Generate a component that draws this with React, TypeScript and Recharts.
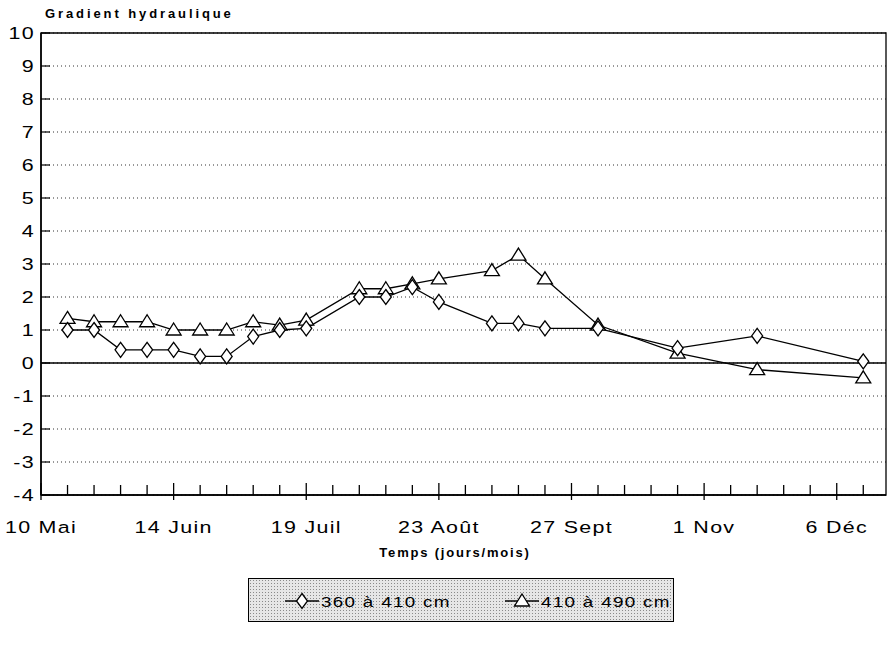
import React from 'react';
import { LineChart, Line, XAxis, YAxis, CartesianGrid, ReferenceLine, ReferenceArea } from 'recharts';

// sampling dates, as day of the year
const days = [137, 144, 151, 158, 165, 172, 179, 186, 193, 200, 214, 221, 228, 235, 249, 256, 263, 277, 298, 319, 347];
const gradient360to410 = [1.0, 1.0, 0.4, 0.4, 0.4, 0.2, 0.2, 0.8, 1.0, 1.05, 2.0, 2.0, 2.3, 1.85, 1.2, 1.2, 1.05, 1.05, 0.45, 0.82, 0.05];
const gradient410to490 = [1.35, 1.25, 1.25, 1.25, 1.0, 1.0, 1.0, 1.25, 1.15, 1.3, 2.25, 2.25, 2.4, 2.55, 2.8, 3.27, 2.55, 1.15, 0.3, -0.2, -0.45];

const labelDays = [130, 165, 200, 235, 270, 305, 340];
const labelNames = ['10 Mai', '14 Juin', '19 Juil', '23 Août', '27 Sept', '1 Nov', '6 Déc'];
const weekTicks = [130, 137, 144, 151, 158, 165, 172, 179, 186, 193, 200, 207, 214, 221, 228, 235, 242, 249, 256, 263, 270, 277, 284, 291, 298, 305, 312, 319, 326, 333, 340, 347];
const yTicks = [-4, -3, -2, -1, 0, 1, 2, 3, 4, 5, 6, 7, 8, 9, 10];

const data = days.map((day, i) => ({ day, a: gradient360to410[i], b: gradient410to490[i] }));

const FONT = '"Liberation Sans", Arial, Helvetica, sans-serif';

const diamondPoints = (cx: number, cy: number) =>
  `${cx},${cy - 7.5} ${cx + 5.5},${cy} ${cx},${cy + 7.5} ${cx - 5.5},${cy}`;
const trianglePoints = (cx: number, cy: number) =>
  `${cx},${cy - 7} ${cx + 7.5},${cy + 5} ${cx - 7.5},${cy + 5}`;

const DiamondDot = (props: any) => {
  const { cx, cy, index } = props;
  if (cx == null || cy == null) return null;
  return <polygon key={`d${index}`} points={diamondPoints(cx, cy)} fill="#fff" stroke="#000" strokeWidth={1.3} />;
};

const TriangleDot = (props: any) => {
  const { cx, cy, index } = props;
  if (cx == null || cy == null) return null;
  return <polygon key={`t${index}`} points={trianglePoints(cx, cy)} fill="#fff" stroke="#000" strokeWidth={1.3} />;
};

const XTick = (props: any) => {
  const { x, y, payload } = props;
  const axisY = y - 8; // tickSize 6 + tickMargin 2
  const idx = labelDays.indexOf(payload.value);
  const major = idx >= 0;
  return (
    <g>
      <line x1={x} x2={x} y1={axisY - (major ? 12 : 10)} y2={axisY + (major ? 5 : 0)} stroke="#000" strokeWidth={1.3} />
      {major && (
        <text
          transform={`translate(${x},${axisY + 38}) scale(1.3,1)`}
          textAnchor="middle"
          fontFamily={FONT}
          fontSize={16.5}
          letterSpacing={1}
          fill="#000"
        >
          {labelNames[idx]}
        </text>
      )}
    </g>
  );
};

const YTick = (props: any) => {
  const { x, y, payload } = props;
  const axisX = x + 8;
  return (
    <g>
      <line x1={axisX} x2={axisX + 9} y1={y} y2={y} stroke="#000" strokeWidth={1.2} />
      <text
        transform={`translate(${axisX - 6},${y + 6}) scale(1.3,1)`}
        textAnchor="end"
        fontFamily={FONT}
        fontSize={16.5}
        letterSpacing={1}
        fill="#000"
      >
        {payload.value}
      </text>
    </g>
  );
};

function LegendBox() {
  return (
    <div
      style={{
        position: 'absolute',
        left: 248,
        top: 578,
        width: 426,
        height: 44,
        boxSizing: 'border-box',
        border: '1.5px solid #000',
        backgroundColor: '#e6e6e6',
        backgroundImage: 'radial-gradient(#8a8a8a 0.7px, transparent 0.9px)',
        backgroundSize: '3px 3px',
      }}
    >
      <svg width={426} height={44} style={{ position: 'absolute', left: 0, top: 0 }}>
        <line x1={36} x2={70} y1={22} y2={22} stroke="#000" strokeWidth={1.3} />
        <polygon points={diamondPoints(53, 22)} fill="#fff" stroke="#000" strokeWidth={1.3} />
        <text transform="translate(72,27.5) scale(1.3,1)" fontFamily={FONT} fontSize={14.5} letterSpacing={1} fill="#000">
          360 à 410 cm
        </text>
        <line x1={256} x2={290} y1={22} y2={22} stroke="#000" strokeWidth={1.3} />
        <polygon points={trianglePoints(273, 22)} fill="#fff" stroke="#000" strokeWidth={1.3} />
        <text transform="translate(292,27.5) scale(1.3,1)" fontFamily={FONT} fontSize={14.5} letterSpacing={1} fill="#000">
          410 à 490 cm
        </text>
      </svg>
    </div>
  );
}

export default function App() {
  return (
    <div style={{ position: 'absolute', left: 0, top: 0, width: 895, height: 653, background: '#fff' }}>
      <div
        style={{
          position: 'absolute',
          left: 45,
          top: 6,
          fontFamily: FONT,
          fontWeight: 'bold',
          fontSize: 13,
          letterSpacing: 2.9,
          lineHeight: '16px',
          color: '#000',
        }}
      >
        Gradient hydraulique
      </div>
      <LineChart width={895} height={653} data={data} margin={{ top: 33, right: 9, left: 0, bottom: 128 }}>
        <CartesianGrid vertical={false} stroke="#333" strokeDasharray="1 3" />
        <XAxis
          dataKey="day"
          type="number"
          domain={[130, 353]}
          ticks={weekTicks}
          interval={0}
          allowDataOverflow
          height={30}
          tickSize={6}
          tickMargin={2}
          tickLine={false}
          tick={<XTick />}
          axisLine={{ stroke: '#000', strokeWidth: 1.5 }}
        />
        <YAxis
          type="number"
          domain={[-4, 10]}
          ticks={yTicks}
          interval={0}
          width={41}
          tickSize={6}
          tickMargin={2}
          tickLine={false}
          tick={<YTick />}
          axisLine={{ stroke: '#000', strokeWidth: 1.5 }}
        />
        <ReferenceArea x1={130} x2={353} y1={-4} y2={10} fill="none" fillOpacity={0} stroke="#000" strokeWidth={1.3} />
        <ReferenceLine y={0} stroke="#000" strokeWidth={1.4} />
        <Line
          type="linear"
          dataKey="b"
          stroke="#000"
          strokeWidth={1.3}
          dot={<TriangleDot />}
          activeDot={false}
          isAnimationActive={false}
        />
        <Line
          type="linear"
          dataKey="a"
          stroke="#000"
          strokeWidth={1.3}
          dot={<DiamondDot />}
          activeDot={false}
          isAnimationActive={false}
        />
      </LineChart>
      <div
        style={{
          position: 'absolute',
          left: 0,
          top: 545,
          width: 910,
          textAlign: 'center',
          fontFamily: FONT,
          fontWeight: 'bold',
          fontSize: 13,
          letterSpacing: 1.8,
          lineHeight: '16px',
          color: '#000',
        }}
      >
        Temps (jours/mois)
      </div>
      <LegendBox />
    </div>
  );
}
